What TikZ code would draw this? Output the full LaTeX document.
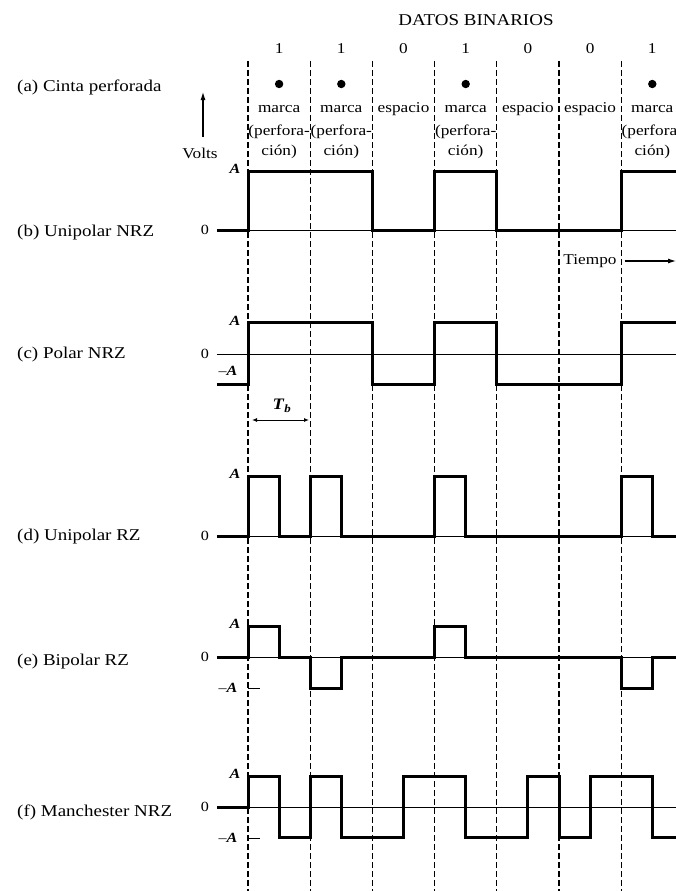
\documentclass[tikz,border=0pt]{standalone}
\usepackage{fontspec}
\setmainfont[FakeStretch=1.15]{Liberation Serif}
\usetikzlibrary{arrows.meta}

\tikzset{
  onda/.style={line width=3pt, line join=miter},
  eje/.style={line width=0.9pt},
  guia/.style={line width=1.1pt, dash pattern=on 6pt off 3pt},
  titulo/.style={font=\fontsize{16.5}{18}\selectfont, inner sep=0pt},
  texto/.style={font=\fontsize{15}{17}\selectfont, inner sep=0pt},
  chico/.style={font=\fontsize{15}{17}\selectfont, inner sep=0pt},
  nivel/.style={font=\fontsize{14}{16}\selectfont, inner sep=0pt},
  flecha/.style={line width=1.1pt, -{Latex[length=8pt,width=5pt]}},
}
\newcommand{\nA}{\textbf{\textit{A}}}

\begin{document}
\begin{tikzpicture}[x=1pt, y=-1pt]
\useasboundingbox (0,0) rectangle (676,891);

% Títulos de cada forma de onda
\foreach \nom/\y/\txt in {cinta/87/(a) Cinta perforada, unrz/233/(b) Unipolar NRZ,
    pnrz/355/(c) Polar NRZ, urz/537/(d) Unipolar RZ, brz/662/(e) Bipolar RZ,
    man/812/(f) Manchester NRZ} {
  \node[titulo, anchor=west] (\nom) at (17,\y) {\txt};
}

% Datos binarios
\node[titulo] (datos) at (476,20) {DATOS BINARIOS};

\begin{scope}[xshift=248pt, x=62.2pt]
% Líneas de tiempo de bit
\foreach \k in {0,...,6} {
  \draw[guia] (\k,61) -- (\k,891);
}
% Bits y perforaciones
\foreach \k/\b/\p in {0/1/marca, 1/1/marca, 2/0/espacio, 3/1/marca, 4/0/espacio, 5/0/espacio, 6/1/marca} {
  \node[texto] (bit\k) at (\k+0.5,49) {\b};
  \node[texto] (cinta\k) at (\k+0.5,109) {\p};
}
\foreach \k in {0,1,3,6} {
  \fill (\k+0.5,84) circle (4.2pt);
  \node[texto] (perf\k) at (\k+0.5,132) {(perfora-};
  \node[texto] (cion\k) at (\k+0.5,152) {ción)};
}

% (b) Unipolar NRZ
\draw[eje] (-0.5,230) -- (6.9,230);
\draw[onda] (-0.5,230) -- (0,230) -- (0,171) -- (2,171) -- (2,230) -- (3,230) -- (3,171)
  -- (4,171) -- (4,230) -- (6,230) -- (6,171) -- (6.9,171);

% (c) Polar NRZ
\draw[eje] (-0.5,354) -- (6.9,354);
\draw[onda] (-0.5,384) -- (0,384) -- (0,322) -- (2,322) -- (2,384) -- (3,384) -- (3,322)
  -- (4,322) -- (4,384) -- (6,384) -- (6,322) -- (6.9,322);

% (d) Unipolar RZ
\draw[eje] (-0.5,536) -- (6.9,536);
\draw[onda] (-0.5,536) -- (0,536) -- (0,476) -- (0.5,476) -- (0.5,536) -- (1,536) -- (1,476)
  -- (1.5,476) -- (1.5,536) -- (3,536) -- (3,476) -- (3.5,476) -- (3.5,536) -- (6,536)
  -- (6,476) -- (6.5,476) -- (6.5,536) -- (6.9,536);

% (e) Bipolar RZ
\draw[eje] (-0.5,657) -- (6.9,657);
\draw[onda] (-0.5,657) -- (0,657) -- (0,626) -- (0.5,626) -- (0.5,657) -- (1,657) -- (1,688)
  -- (1.5,688) -- (1.5,657) -- (3,657) -- (3,626) -- (3.5,626) -- (3.5,657) -- (6,657)
  -- (6,688) -- (6.5,688) -- (6.5,657) -- (6.9,657);

% (f) Manchester NRZ
\draw[eje] (-0.5,807) -- (6.9,807);
\draw[onda] (-0.5,807) -- (0,807) -- (0,776) -- (0.5,776) -- (0.5,837) -- (1,837) -- (1,776)
  -- (1.5,776) -- (1.5,837) -- (2.5,837) -- (2.5,776) -- (3.5,776) -- (3.5,837) -- (4.5,837)
  -- (4.5,776) -- (5,776) -- (5,837) -- (5.5,837) -- (5.5,776) -- (6.5,776) -- (6.5,837)
  -- (6.9,837);

% Marcas de -A
\draw[eje] (0,688) -- (0.2,688);
\draw[eje] (0,838) -- (0.2,838);
\end{scope}

% Niveles
\foreach \nom/\y in {b/230, c/354, d/536, e/657, f/807} {
  \node[nivel] (cero\nom) at (205,\y) {0};
}
\foreach \nom/\y in {b/169, c/321, d/474, e/624, f/774} {
  \node[nivel] (alto\nom) at (235,\y) {\nA};
}
\foreach \nom/\y in {c/371, e/688, f/838} {
  \node[nivel] (bajo\nom) at (228,\y) {--\nA};
}

% Eje de voltaje
\node[chico] (volts) at (200,153) {Volts};
\coordinate (vpie) at (203,137);
\coordinate (vtope) at (203,92);
\draw[flecha] (vpie) -- (vtope);

% Eje de tiempo
\node[chico] (tiempo) at (590,261) {Tiempo};
\coordinate (tfin) at (676,261);
\draw[flecha] ([xshift=8pt]tiempo.east) -- (tfin);

% Periodo de bit
\node[nivel, font=\fontsize{16}{18}\selectfont] (tb) at (282,406) {\textbf{\textit{T}}\textsubscript{\textbf{\textit{b}}}};
\coordinate (tbA) at (252,420);
\coordinate (tbB) at (309,420);
\draw[line width=1pt, {Latex[length=5pt,width=4pt]}-{Latex[length=5pt,width=4pt]}] (tbA) -- (tbB);
\end{tikzpicture}
\end{document}
